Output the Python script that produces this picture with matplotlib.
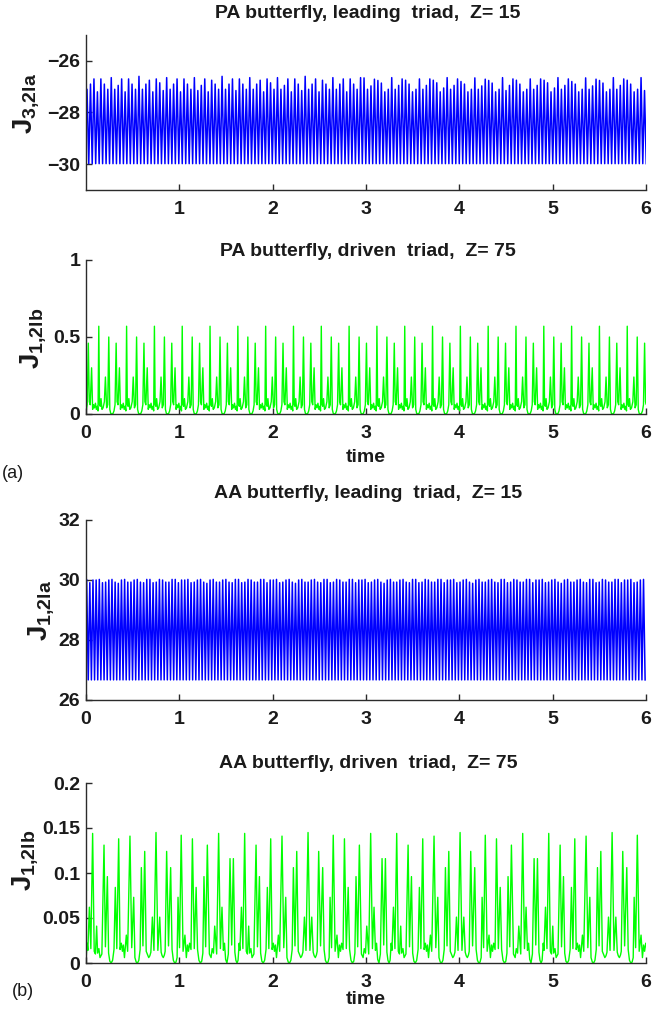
import numpy as np
import matplotlib.pyplot as plt

plt.rcParams['font.family'] = ['Liberation Sans', 'DejaVu Sans']
plt.rcParams['font.weight'] = 'bold'
plt.rcParams['mathtext.fontset'] = 'custom'
plt.rcParams['mathtext.rm'] = 'Liberation Sans:bold'
plt.rcParams['mathtext.bf'] = 'Liberation Sans:bold'
plt.rcParams['mathtext.it'] = 'Liberation Sans:bold'

# ---------------- data ----------------
time_ticks = [0, 1, 2, 3, 4, 5, 6]

# (a) top: PA butterfly, leading triad -- fast oscillation, troughs sit on -30
pa_lead_t0 = 0.011      # first peak
pa_lead_dt = 0.0371     # peak-to-peak spacing
pa_lead_trough = -29.98
pa_lead_peaks = [
    -27.10, -26.90, -26.70, -27.20, -26.70, -26.90, -27.10, -26.65,
    -27.10, -26.95, -26.70, -27.20, -26.70, -26.90, -27.10, -26.60,
    -27.10, -26.90, -26.75, -27.20, -26.70, -26.85, -27.15, -26.65,
    -27.10, -26.90, -26.70, -27.20, -26.70, -26.90, -27.10, -26.65,
    -27.15, -26.95, -26.70, -27.20, -26.75, -26.90, -27.10, -26.60,
    -27.10, -26.90, -26.70, -27.15, -26.70, -26.90, -27.10, -26.65,
    -27.10, -26.90, -26.75, -27.20, -26.70, -26.85, -27.10, -26.65,
    -27.10, -26.95, -26.70, -27.20, -26.70, -26.90, -27.15, -26.60,
    -27.10, -26.90, -26.70, -27.20, -26.75, -26.90, -27.10, -26.65,
    -27.10, -26.90, -26.70, -27.20, -26.70, -26.90, -27.10, -26.65,
    -26.66, -27.10, -26.97, -26.71, -26.76, -26.86, -27.20, -27.10,
    -26.65, -27.10, -26.95, -26.70, -26.75, -26.90, -27.20, -27.10,
    -26.70, -27.10, -26.95, -26.70, -26.75, -26.85, -27.20, -27.05,
    -26.65, -27.10, -26.95, -26.70, -26.80, -26.90, -27.20, -27.10,
    -26.66, -27.10, -26.97, -26.71, -26.76, -26.86, -27.20, -27.10,
    -26.65, -27.15, -26.95, -26.70, -26.75, -26.90, -27.20, -27.10,
    -26.70, -27.10, -26.95, -26.70, -26.75, -26.85, -27.20, -27.05,
    -26.65, -27.10, -26.95, -26.70, -26.80, -26.90, -27.20, -27.10,
    -26.66, -27.10, -26.97, -26.71, -26.76, -26.86, -27.20, -27.10,
    -26.65, -27.10, -26.95, -26.70, -26.75, -26.90, -27.20, -27.10,
    -26.65, -27.15,
]

# (a) bottom: PA butterfly, driven triad -- one cycle read around each big spike
pa_drv_spikes = [-0.161, 0.137, 0.435, 0.733, 1.031, 1.329, 1.627, 1.925,
                 2.223, 2.521, 2.819, 3.117, 3.415, 3.713, 4.011, 4.309,
                 4.607, 4.905, 5.203, 5.501, 5.799, 6.097]
pa_drv_offsets = [0.000, 0.008, 0.016, 0.024, 0.034, 0.046, 0.060, 0.071,
                  0.084, 0.096, 0.107, 0.118, 0.128, 0.140, 0.152, 0.163,
                  0.174, 0.186, 0.196, 0.206, 0.221, 0.232, 0.242, 0.252,
                  0.262, 0.272, 0.282, 0.290]
pa_drv_values = [0.57, 0.06, 0.05, 0.10, 0.03, 0.04, 0.08, 0.24,
                 0.04, 0.06, 0.50, 0.03, 0.004, 0.000, 0.003, 0.02,
                 0.06, 0.46, 0.08, 0.06, 0.30, 0.03, 0.06, 0.04,
                 0.07, 0.03, 0.05, 0.02]

# (b) top: AA butterfly, leading triad -- troughs at 26.67, peaks near 30
aa_lead_t0 = 0.007
aa_lead_dt = 0.0339
aa_lead_trough = 26.67
aa_lead_peaks = [
    30.02, 29.91, 30.00, 30.00, 30.02, 29.91, 29.93, 30.00, 30.02,
    29.93, 29.89, 30.00, 30.02, 29.93, 29.93, 30.00, 30.02, 29.93,
    29.91, 30.02, 30.02, 29.91, 29.93, 30.02, 30.00, 29.93, 29.93,
    30.02, 30.02, 29.91, 30.00, 30.00, 30.02, 29.91, 29.93, 30.00,
    30.02, 29.93, 29.89, 30.00, 30.02, 29.93, 29.93, 30.00, 30.02,
    29.93, 29.91, 30.02, 30.02, 29.91, 29.93, 30.02, 30.00, 29.93,
    29.93, 30.02, 30.02, 29.91, 30.00, 30.00, 30.02, 29.91, 29.93,
    30.00, 30.02, 29.93, 29.89, 30.00, 30.02, 29.93, 29.93, 30.00,
    30.02, 29.93, 29.91, 30.02, 30.02, 29.91, 29.93, 30.02, 30.00,
    29.93, 29.93, 30.02, 30.02, 29.91, 30.00, 30.00, 30.02, 29.91,
    29.93, 30.00, 30.02, 29.93, 29.89, 30.00, 30.02, 29.93, 29.93,
    30.00, 30.02, 29.93, 29.91, 30.02, 30.02, 29.91, 29.93, 30.02,
    30.00, 29.93, 29.93, 30.02, 30.02, 29.91, 30.00, 30.00, 30.02,
    29.91, 29.93, 30.00, 30.02, 29.93, 29.89, 30.00, 30.02, 29.93,
    29.93, 30.00, 30.02, 29.93, 29.91, 30.02, 30.02, 29.91, 29.93,
    30.02, 30.00, 29.93, 29.93, 30.02, 30.02, 29.91, 30.00, 30.00,
    30.02, 29.91, 29.93, 30.00, 30.02, 29.93, 29.89, 30.00, 30.02,
    29.93, 29.93, 30.00, 30.02, 29.93, 29.91, 30.02, 30.02, 29.91,
    29.93, 30.02, 30.00, 29.93, 29.93, 30.02, 30.02, 29.91, 30.00,
    30.00, 30.02, 29.91, 29.93, 30.00, 30.02,
]

# (b) bottom: AA butterfly, driven triad -- one full period (1.629) of vertices
aa_drv_starts = [0.0, 1.629, 3.258, 4.887]
aa_drv_offsets = [
    0.000, 0.012, 0.020, 0.036, 0.052, 0.071, 0.088, 0.101, 0.114, 0.124,
    0.138, 0.150, 0.170, 0.193, 0.208, 0.229, 0.242, 0.255, 0.270, 0.285,
    0.300, 0.314, 0.330, 0.350, 0.365, 0.378, 0.390, 0.400, 0.412, 0.432,
    0.446, 0.471, 0.490, 0.511, 0.524, 0.538, 0.552, 0.566, 0.580, 0.593,
    0.610, 0.629, 0.645, 0.660, 0.672, 0.684, 0.695, 0.711, 0.728, 0.750,
    0.770, 0.790, 0.805, 0.816, 0.828, 0.840, 0.848, 0.864, 0.884, 0.907,
    0.922, 0.936, 0.950, 0.964, 0.976, 0.986, 1.002, 1.020, 1.040, 1.060,
    1.075, 1.087, 1.098, 1.110, 1.125, 1.140, 1.160, 1.180, 1.195, 1.210,
    1.225, 1.240, 1.252, 1.264, 1.282, 1.300, 1.322, 1.340, 1.352, 1.366,
    1.379, 1.400, 1.421, 1.440, 1.457, 1.472, 1.484, 1.496, 1.510, 1.525,
    1.543, 1.561, 1.579, 1.595, 1.606, 1.618,
]
aa_drv_values = [
    0.003, 0.022, 0.014, 0.062, 0.016, 0.144, 0.013, 0.010, 0.041, 0.011,
    0.016, 0.006, 0.010, 0.131, 0.018, 0.096, 0.011, 0.002, 0.000, 0.003,
    0.015, 0.084, 0.016, 0.138, 0.015, 0.022, 0.013, 0.020, 0.006, 0.031,
    0.013, 0.141, 0.017, 0.073, 0.006, 0.001, 0.000, 0.003, 0.015, 0.106,
    0.019, 0.124, 0.013, 0.009, 0.006, 0.008, 0.012, 0.051, 0.014, 0.145,
    0.014, 0.051, 0.012, 0.008, 0.006, 0.009, 0.013, 0.124, 0.019, 0.106,
    0.015, 0.003, 0.000, 0.001, 0.006, 0.073, 0.017, 0.142, 0.013, 0.031,
    0.006, 0.020, 0.013, 0.022, 0.015, 0.138, 0.016, 0.084, 0.015, 0.003,
    0.000, 0.002, 0.011, 0.096, 0.018, 0.131, 0.010, 0.006, 0.016, 0.011,
    0.041, 0.010, 0.144, 0.016, 0.062, 0.014, 0.022, 0.004, 0.000, 0.010,
    0.116, 0.020, 0.116, 0.012, 0.003, 0.000,
]


def sawtooth(t0, dt, peaks, trough):
    # peaks at t0 + k*dt, troughs half way between
    peaks = np.asarray(peaks)
    n = len(peaks)
    tp = t0 + dt * np.arange(n)
    t = np.empty(2 * n + 1)
    j = np.full(2 * n + 1, trough)
    t[0::2] = np.append(tp - dt / 2, tp[-1] + dt / 2)
    t[1::2] = tp
    j[1::2] = peaks
    return t, j


def cycles(starts, offsets, values):
    t = np.concatenate([s + np.asarray(offsets) for s in starts])
    j = np.tile(values, len(starts))
    return t, j


W, H = 672, 1010
fig = plt.figure(figsize=(W / 100, H / 100), dpi=100)


def add_axes(top, bottom, left=86, right=646):
    return fig.add_axes([left / W, 1 - bottom / H, (right - left) / W, (bottom - top) / H])


def style(ax, ylim, yticks, ylabels, xticks, xlabels):
    ax.set_xlim(0, 6)
    ax.set_ylim(*ylim)
    ax.set_yticks(yticks, ylabels)
    ax.set_xticks(xticks, xlabels)
    for s in ['top', 'right']:
        ax.spines[s].set_visible(False)
    for s in ['left', 'bottom']:
        ax.spines[s].set_color('#2b2b2b')
        ax.spines[s].set_linewidth(1.0)
    ax.tick_params(direction='in', length=4, width=1.0, color='#2b2b2b',
                   labelsize=14, labelcolor='#1a1a1a')
    ax.tick_params(axis='x', pad=8)
    ax.tick_params(axis='y', pad=4)


def ftext(x, y, s, **kw):
    fig.text(x / W, 1 - y / H, s, ha='center', va='center', **kw)


blue = '#0000ff'
green = '#00ff00'

# panel 1
ax1 = add_axes(35, 190)
t, j = sawtooth(pa_lead_t0, pa_lead_dt, pa_lead_peaks, pa_lead_trough)
ax1.plot(t, j, color=blue, lw=1.1)
style(ax1, (-31, -25), [-30, -28, -26], ['\u221230', '\u221228', '\u221226'],
      time_ticks[1:], [str(v) for v in time_ticks[1:]])

# panel 2
ax2 = add_axes(260, 414)
t, j = cycles(pa_drv_spikes, pa_drv_offsets, pa_drv_values)
ax2.plot(t, j, color=green, lw=1.0)
style(ax2, (0, 1), [0, 0.5, 1], ['0', '0.5', '1'],
      time_ticks, [str(v) for v in time_ticks])

# panel 3
ax3 = add_axes(520, 700)
t, j = sawtooth(aa_lead_t0, aa_lead_dt, aa_lead_peaks, aa_lead_trough)
ax3.plot(t, j, color=blue, lw=1.1)
style(ax3, (26, 32), [26, 28, 30, 32], ['26', '28', '30', '32'],
      time_ticks, [str(v) for v in time_ticks])

# panel 4
ax4 = add_axes(783, 963)
t, j = cycles(aa_drv_starts, aa_drv_offsets, aa_drv_values)
ax4.plot(t, j, color=green, lw=1.0)
style(ax4, (0, 0.2), [0, 0.05, 0.1, 0.15, 0.2], ['0', '0.05', '0.1', '0.15', '0.2'],
      time_ticks, [str(v) for v in time_ticks])

# titles, axis labels, panel tags
tkw = dict(fontsize=14, fontweight='bold', color='#1a1a1a')
ftext(368, 14, 'PA butterfly, leading  triad,  Z= 15', **tkw)
ftext(368, 251, 'PA butterfly, driven  triad,  Z= 75', **tkw)
ftext(368, 494, 'AA butterfly, leading  triad,  Z= 15', **tkw)
ftext(368, 763, 'AA butterfly, driven  triad,  Z= 75', **tkw)

ftext(366, 458, 'time', fontsize=14, fontweight='bold', color='#1a1a1a')
ftext(366, 1000, 'time', fontsize=14, fontweight='bold', color='#1a1a1a')

jkw = dict(fontsize=20, rotation=90, color='#1a1a1a')
ftext(26, 103, r'$\mathbf{J_{3{,}2la}}$', **jkw)
ftext(33, 338, r'$\mathbf{J_{1{,}2lb}}$', **jkw)
ftext(41, 610, r'$\mathbf{J_{1{,}2la}}$', **jkw)
ftext(25, 860, r'$\mathbf{J_{1{,}2lb}}$', **jkw)

ftext(13, 474, '(a)', fontsize=13, fontweight='normal', color='#1a1a1a')
ftext(23, 992, '(b)', fontsize=13, fontweight='normal', color='#1a1a1a')

fig.savefig('out.png', dpi=100)
